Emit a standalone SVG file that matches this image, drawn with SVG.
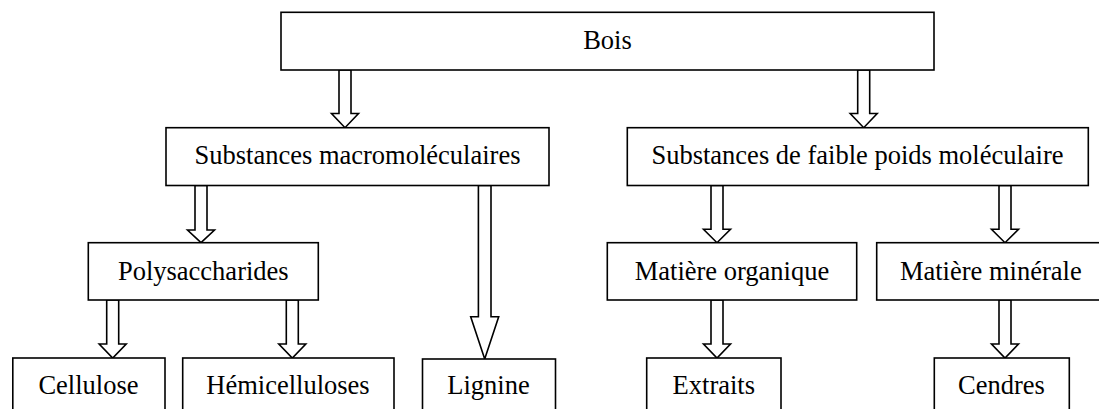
<svg xmlns="http://www.w3.org/2000/svg" width="1099" height="409" viewBox="0 0 1099 409">
<style>
.box{fill:#fff;stroke:#000;stroke-width:1.6}
.lbl{font-family:"Liberation Serif","Times New Roman",serif;font-size:26.5px;fill:#000;text-anchor:middle}
.arr{fill:#fff;stroke:#000;stroke-width:1.6;stroke-linejoin:miter}
</style>
<rect width="1099" height="409" fill="#fff"/>
<g id="connectors">
<path class="arr" d="M339,70 V113.5 H331.5 L345,127.7 L358.5,113.5 H351 V70 Z"/>
<path class="arr" d="M857.7,70 V113.5 H850.2 L863.7,127.7 L877.2,113.5 H869.7 V70 Z"/>
<path class="arr" d="M195,185.5 V230 H187.5 L201,242.7 L214.5,230 H207 V185.5 Z"/>
<path class="arr" d="M478.4,185.5 V316.7 H470.7 L484.7,359 L498.7,316.7 H491 V185.5 Z"/>
<path class="arr" d="M106.7,300 V344 H99.2 L112.7,358 L126.2,344 H118.7 V300 Z"/>
<path class="arr" d="M286.3,300 V344 H278.8 L292.3,358 L305.8,344 H298.3 V300 Z"/>
<path class="arr" d="M711,185.5 V229.3 H703.5 L717,242.7 L730.5,229.3 H723 V185.5 Z"/>
<path class="arr" d="M999,185.5 V229.3 H991.5 L1005,242.7 L1018.5,229.3 H1011 V185.5 Z"/>
<path class="arr" d="M711,300 V344 H703.5 L717,358 L730.5,344 H723 V300 Z"/>
<path class="arr" d="M999,300 V344 H991.5 L1005,358 L1018.5,344 H1011 V300 Z"/>
</g>
<g id="bois"><rect class="box" x="281" y="12.3" width="653" height="57.7"/><text class="lbl" x="607.5" y="49">Bois</text></g>
<g id="macro"><rect class="box" x="166" y="127.7" width="383" height="57.8"/><text class="lbl" x="357.5" y="164">Substances macromoléculaires</text></g>
<g id="faible"><rect class="box" x="627.3" y="127.7" width="461" height="57.8"/><text class="lbl" x="857.5" y="164">Substances de faible poids moléculaire</text></g>
<g id="poly"><rect class="box" x="88.3" y="242.7" width="230" height="57.3"/><text class="lbl" x="203.3" y="279.5">Polysaccharides</text></g>
<g id="organique"><rect class="box" x="607.3" y="242.7" width="249.4" height="57.3"/><text class="lbl" x="732" y="279.5">Matière organique</text></g>
<g id="minerale"><rect class="box" x="876.7" y="242.7" width="230" height="57.3"/><text class="lbl" x="990.8" y="279.5">Matière minérale</text></g>
<g id="cellulose"><rect class="box" x="12.8" y="358" width="152.2" height="60"/><text class="lbl" x="88.5" y="393.5">Cellulose</text></g>
<g id="hemi"><rect class="box" x="182.7" y="358" width="211.3" height="60"/><text class="lbl" x="288" y="393.5">Hémicelluloses</text></g>
<g id="lignine"><rect class="box" x="422.5" y="359" width="133" height="60"/><text class="lbl" x="488.5" y="393.5">Lignine</text></g>
<g id="extraits"><rect class="box" x="646.7" y="358" width="134.3" height="60"/><text class="lbl" x="713.8" y="393.5">Extraits</text></g>
<g id="cendres"><rect class="box" x="934.3" y="358" width="135" height="60"/><text class="lbl" x="1001.5" y="393.5">Cendres</text></g>
</svg>
